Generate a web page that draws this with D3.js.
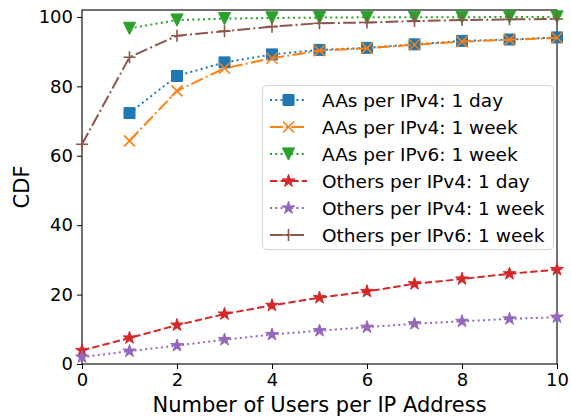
<!DOCTYPE html>
<html>
<head>
<meta charset="utf-8">
<script src="https://cdn.jsdelivr.net/npm/d3@7"></script>
<style>
  html, body { margin: 0; padding: 0; background: #fff; }
  svg { display: block; font-family: "DejaVu Sans", sans-serif; }
</style>
</head>
<body>
<svg id="chart" width="571" height="419"></svg>
<script>
// Users per IP address (x) against cumulative share in percent (y)
const usersPerIP = [0, 1, 2, 3, 4, 5, 6, 7, 8, 9, 10];
const xTicks = [0, 2, 4, 6, 8, 10];
const yTicks = [0, 20, 40, 60, 80, 100];

const aasIPv4Day   = [null, 72.3, 83.0, 86.9, 89.2, 90.5, 91.1, 92.1, 93.1, 93.5, 94.1];
const aasIPv4Week  = [null, 64.3, 78.7, 85.2, 88.1, 90.3, 91.0, 92.0, 92.9, 93.4, 94.0];
const aasIPv6Week  = [null, 96.7, 99.1, 99.5, 99.7, 99.8, 99.9, 99.9, 99.9, 100, 100];
const othIPv4Day   = [3.9, 7.5, 11.2, 14.4, 16.9, 19.1, 20.9, 23.1, 24.5, 26.0, 27.2];
const othIPv4Week  = [2.0, 3.7, 5.3, 7.0, 8.5, 9.6, 10.6, 11.6, 12.3, 13.0, 13.5];
const othIPv6Week  = [63.3, 88.4, 94.6, 95.9, 97.2, 98.2, 98.4, 98.8, 99.1, 99.3, 99.4];

const seriesNames = [
  "AAs per IPv4: 1 day",
  "AAs per IPv4: 1 week",
  "AAs per IPv6: 1 week",
  "Others per IPv4: 1 day",
  "Others per IPv4: 1 week",
  "Others per IPv6: 1 week"
];

// Marker shapes as d3 symbol types
const squareSym = { draw(ctx, size) { const s = Math.sqrt(size) / 2; ctx.rect(-s, -s, 2 * s, 2 * s); } };
const crossXSym = { draw(ctx, size) { const s = Math.sqrt(size) / 2;
  ctx.moveTo(-s, -s); ctx.lineTo(s, s); ctx.moveTo(-s, s); ctx.lineTo(s, -s); } };
const plusSym = { draw(ctx, size) { const s = Math.sqrt(size) / 2;
  ctx.moveTo(-s, 0); ctx.lineTo(s, 0); ctx.moveTo(0, -s); ctx.lineTo(0, s); } };
const triDownSym = { draw(ctx, size) { const s = Math.sqrt(size) / 2;
  ctx.moveTo(-s, -s); ctx.lineTo(s, -s); ctx.lineTo(0, s); ctx.closePath(); } };

const series = [
  { name: seriesNames[0], values: aasIPv4Day,  color: "#1f77b4", dash: "2,3.3",          sym: squareSym,      size: 121, filled: true },
  { name: seriesNames[1], values: aasIPv4Week, color: "#ff7f0e", dash: "12.8,3.2,2,3.2", sym: crossXSym,      size: 121, filled: false },
  { name: seriesNames[2], values: aasIPv6Week, color: "#2ca02c", dash: "2,3.3",          sym: triDownSym,     size: 150, filled: true },
  { name: seriesNames[3], values: othIPv4Day,  color: "#d62728", dash: "7.4,3.2",        sym: d3.symbolStar,  size: 50,  filled: true },
  { name: seriesNames[4], values: othIPv4Week, color: "#9467bd", dash: "2,3.3",          sym: d3.symbolStar,  size: 50,  filled: true },
  { name: seriesNames[5], values: othIPv6Week, color: "#8c564b", dash: "12.8,3.2,2,3.2", sym: plusSym,        size: 144, filled: false }
];

const svg = d3.select("#chart");
const margin = { left: 82, right: 14, top: 10, bottom: 55 };
const W = 571, H = 419;

const x = d3.scaleLinear().domain([0, 10]).range([margin.left, W - margin.right]);
const y = d3.scaleLinear().domain([0, 102]).range([H - margin.bottom, margin.top]);

// Axes
const xAxis = svg.append("g")
  .attr("transform", `translate(0,${H - margin.bottom})`)
  .call(d3.axisBottom(x).tickValues(xTicks).tickFormat(d3.format("d")).tickSize(5).tickPadding(4));
const yAxis = svg.append("g")
  .attr("transform", `translate(${margin.left},0)`)
  .call(d3.axisLeft(y).tickValues(yTicks).tickFormat(d3.format("d")).tickSize(5).tickPadding(4));
[xAxis, yAxis].forEach(g => {
  g.select(".domain").remove();
  g.selectAll("line").attr("stroke", "#000").attr("stroke-width", 1);
  g.selectAll("text").attr("fill", "#000").style("font-size", "18px")
    .style("font-family", "'DejaVu Sans', sans-serif");
});

// Plot frame
svg.append("rect")
  .attr("x", x(0)).attr("y", y(102))
  .attr("width", x(10) - x(0)).attr("height", y(0) - y(102))
  .attr("fill", "none").attr("stroke", "#000").attr("stroke-width", 1.1);

// Lines and markers
const plot = svg.append("g");
const line = d3.line()
  .defined(d => d.v != null)
  .x(d => x(d.u)).y(d => y(d.v));

series.forEach(s => {
  const pts = usersPerIP.map((u, i) => ({ u, v: s.values[i] }));
  plot.append("path")
    .datum(pts)
    .attr("d", line)
    .attr("fill", "none")
    .attr("stroke", s.color)
    .attr("stroke-width", 2)
    .attr("stroke-dasharray", s.dash);
  plot.append("g").selectAll("path")
    .data(pts.filter(d => d.v != null))
    .join("path")
    .attr("transform", d => `translate(${x(d.u)},${y(d.v)})`)
    .attr("d", d3.symbol().type(s.sym).size(s.size))
    .attr("fill", s.filled ? s.color : "none")
    .attr("stroke", s.color)
    .attr("stroke-width", s.filled ? 1 : 1.6);
});

// Legend
const legend = svg.append("g");
legend.append("rect")
  .attr("x", 262.5).attr("y", 85.5).attr("width", 291).attr("height", 164)
  .attr("rx", 4).attr("fill", "rgba(255,255,255,0.8)")
  .attr("stroke", "#d6d6d6").attr("stroke-width", 1);
series.forEach((s, i) => {
  const cy = 100 + i * 27;
  legend.append("line")
    .attr("x1", 270).attr("x2", 307).attr("y1", cy).attr("y2", cy)
    .attr("stroke", s.color).attr("stroke-width", 2)
    .attr("stroke-dasharray", s.dash);
  legend.append("path")
    .attr("transform", `translate(288.5,${cy})`)
    .attr("d", d3.symbol().type(s.sym).size(s.size))
    .attr("fill", s.filled ? s.color : "none")
    .attr("stroke", s.color)
    .attr("stroke-width", s.filled ? 1 : 1.6);
  legend.append("text")
    .attr("x", 322).attr("y", cy).attr("dy", "0.36em")
    .style("font-size", "18.5px").attr("fill", "#000")
    .text(s.name);
});

// Axis titles
svg.append("text")
  .attr("x", (x(0) + x(10)) / 2).attr("y", 412)
  .attr("text-anchor", "middle").style("font-size", "21px").attr("fill", "#000")
  .text("Number of Users per IP Address");
svg.append("text")
  .attr("transform", `translate(28.5,${(y(0) + y(102)) / 2}) rotate(-90)`)
  .attr("text-anchor", "middle").style("font-size", "21px").attr("fill", "#000")
  .text("CDF");
</script>
</body>
</html>
